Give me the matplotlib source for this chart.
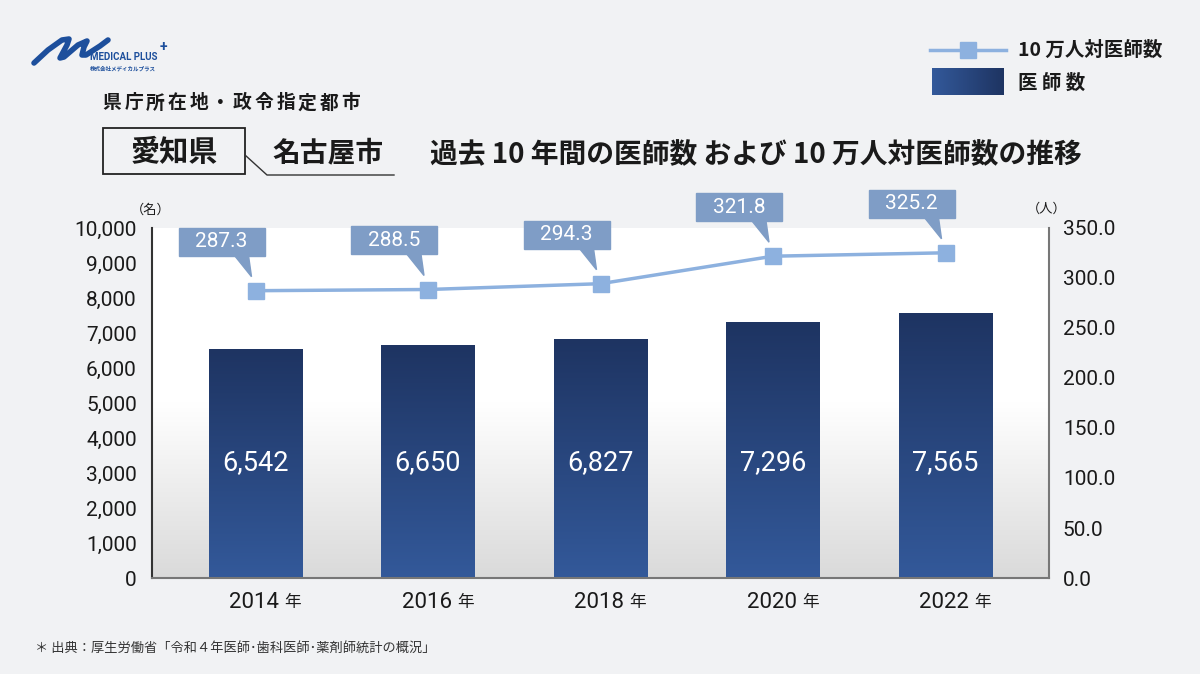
import numpy as np
import matplotlib
matplotlib.use('Agg')
import matplotlib.pyplot as plt
from matplotlib import transforms
from matplotlib.colors import LinearSegmentedColormap
from matplotlib.patches import Rectangle, Polygon
from matplotlib.lines import Line2D

# data
years = ['2014', '2016', '2018', '2020', '2022']
doctors = [6542, 6650, 6827, 7296, 7565]
per100k = [287.3, 288.5, 294.3, 321.8, 325.2]
left_ticks = np.arange(0, 10001, 1000)
right_ticks = np.arange(0, 351, 50)

W, H = 1200, 674


def fx(x):
    return x / W


def fy(y):
    return 1 - y / H


plt.rcParams['font.family'] = ['Noto Sans CJK JP', 'DejaVu Sans']
NUM = ['Roboto', 'DejaVu Sans']
BLUE_LINE = '#8db1df'
CALLOUT = '#7f9dc6'
TXT = '#1a1a1a'

fig = plt.figure(figsize=(12, 6.74), dpi=100)
fig.patch.set_facecolor('#f1f2f4')

ax = fig.add_axes([fx(152), fy(578), fx(1049) - fx(152), (578 - 228) / H])

# plot area gradient
bg_cmap = LinearSegmentedColormap.from_list('bg', ['#ffffff', '#ffffff', '#dadada'])
ax.imshow(np.linspace(0, 1, 256).reshape(-1, 1), cmap=bg_cmap, extent=[0, 1, 0, 1],
          transform=ax.transAxes, aspect='auto', zorder=0)

x = np.arange(len(years))
bars = ax.bar(x, doctors, width=0.54, color='none', zorder=2)
bar_cmap = LinearSegmentedColormap.from_list('bar', ['#1e3462', '#33599a'])
for b in bars:
    ax.imshow(np.linspace(0, 1, 256).reshape(-1, 1), cmap=bar_cmap,
              extent=[b.get_x(), b.get_x() + b.get_width(), 0, b.get_height()],
              aspect='auto', zorder=2)

for xi, v in zip(x, doctors):
    ax.text(xi, 3300, f'{v:,}', color='white', fontsize=19.5, family=NUM,
            ha='center', va='center', zorder=4)

ax.set_xlim(-0.6, 4.6)
ax.set_ylim(0, 10000)
ax.set_yticks(left_ticks)
ax.set_yticklabels([f'{v:,}' for v in left_ticks], family=NUM, fontsize=15, color=TXT)
ax.set_xticks([])
ax.tick_params(axis='y', length=0, pad=11)

for xi, yr in zip(x, years):
    ax.annotate(yr, xy=(xi, 0), xytext=(-1, -18), textcoords='offset points',
                ha='center', va='center', fontsize=16, family=NUM, color=TXT)
    ax.annotate('年', xy=(xi, 0), xytext=(21, -18), textcoords='offset points',
                ha='left', va='center', fontsize=12, color=TXT)

ax2 = ax.twinx()
ax2.plot(x, per100k, color=BLUE_LINE, lw=2.5, marker='s', ms=12, zorder=3)

for xi, v in zip(x, per100k):
    off = fig.dpi_scale_trans + transforms.ScaledTranslation(xi, v, ax2.transData)
    ax2.add_patch(Rectangle((-0.77, 0.35), 0.86, 0.28, transform=off,
                            color=CALLOUT, clip_on=False, zorder=5))
    ax2.add_patch(Polygon([(-0.21, 0.352), (-0.07, 0.352), (-0.04, 0.14)], closed=True,
                          transform=off, color=CALLOUT, clip_on=False, zorder=5))
    ax2.text(-0.34, 0.49, f'{v:.1f}', transform=off, color='white', fontsize=15,
             family=NUM, ha='center', va='center', zorder=6)

ax2.set_xlim(-0.6, 4.6)
ax2.set_ylim(0, 350)
ax2.set_yticks(right_ticks)
ax2.set_yticklabels([f'{v:.1f}' for v in right_ticks], family=NUM, fontsize=15, color=TXT)
ax2.tick_params(axis='y', length=0, pad=10)

for s in ['top', 'right']:
    ax.spines[s].set_visible(False)
for s in ['top', 'left', 'bottom']:
    ax2.spines[s].set_visible(False)
ax.spines['left'].set_color('#333333')
ax.spines['left'].set_linewidth(1.5)
ax.spines['bottom'].set_color('#777777')
ax.spines['bottom'].set_linewidth(1.5)
ax2.spines['right'].set_color('#777777')
ax2.spines['right'].set_linewidth(1.5)

# unit labels
fig.text(fx(151), fy(210), '（名）', fontsize=9.5, ha='center', va='center', color=TXT)
fig.text(fx(1047), fy(209), '（人）', fontsize=9.5, ha='center', va='center', color=TXT)

# headings
sub = '県庁所在地・政令指定都市'
for i, ch in enumerate(sub):
    fig.text(fx(112 + i * 21.7), fy(103), ch, fontsize=13.5, weight='bold',
             ha='center', va='center', color=TXT)
fig.add_artist(Rectangle((fx(103), fy(174)), fx(245) - fx(103), (174 - 128) / H,
                         transform=fig.transFigure, fill=False, ec='#222222', lw=1.3))
fig.add_artist(Line2D([fx(245), fx(267), fx(394)], [fy(155), fy(175), fy(175)],
                      transform=fig.transFigure, color='#333333', lw=1.0))
fig.text(fx(174), fy(152), '愛知県', fontsize=21, weight='bold', ha='center',
         va='center', color=TXT)
fig.text(fx(328), fy(153), '名古屋市', fontsize=20, weight='bold', ha='center',
         va='center', color=TXT)
fig.text(fx(430), fy(155), '過去 10 年間の医師数 および 10 万人対医師数の推移',
         fontsize=20, weight='bold', ha='left', va='center', color=TXT)

# legend
fig.add_artist(Line2D([fx(930), fx(1006)], [fy(50), fy(50)], transform=fig.transFigure,
                      color=BLUE_LINE, lw=2.5))
fig.add_artist(Line2D([fx(968)], [fy(50)], transform=fig.transFigure, color=BLUE_LINE,
                      marker='s', ms=11, lw=0))
fig.text(fx(1018), fy(50), '10 万人対医師数', fontsize=14, weight='bold',
         ha='left', va='center', color=TXT)
lax = fig.add_axes([fx(932), fy(95), fx(1003) - fx(932), (95 - 68) / H])
leg_cmap = LinearSegmentedColormap.from_list('leg', ['#33599a', '#1e3462'])
lax.imshow(np.linspace(0, 1, 64).reshape(1, -1), cmap=leg_cmap, aspect='auto')
lax.axis('off')
fig.text(fx(1018), fy(83), '医 師 数', fontsize=14, weight='bold',
         ha='left', va='center', color=TXT)

# logo
logo_x = [34, 48, 62, 69, 67, 60, 64, 78, 87, 84, 82, 86, 100, 108]
logo_y = [63, 50, 40, 39, 45, 58, 57, 45, 41, 47, 55, 55, 46, 40]
fig.add_artist(Line2D([fx(v) for v in logo_x], [fy(v) for v in logo_y],
                      transform=fig.transFigure, color='#1d4f9c', lw=4,
                      solid_capstyle='round', solid_joinstyle='round'))
fig.text(fx(90), fy(57), 'MEDICAL PLUS', fontsize=7, weight='bold', family=NUM,
         color='#1d4f9c', ha='left', va='center')
fig.text(fx(160), fy(47), '+', fontsize=10, weight='bold', family=NUM,
         color='#1d4f9c', ha='left', va='center')
fig.text(fx(90), fy(69), '株式会社メディカルプラス', fontsize=4, weight='bold',
         color='#1d4f9c', ha='left', va='center')

# source
fig.text(fx(35), fy(648), '＊ 出典：厚生労働省「令和４年医師･歯科医師･薬剤師統計の概況」',
         fontsize=9.5, color='#333333', ha='left', va='center')

fig.savefig('out.png', dpi=100, facecolor=fig.get_facecolor())
